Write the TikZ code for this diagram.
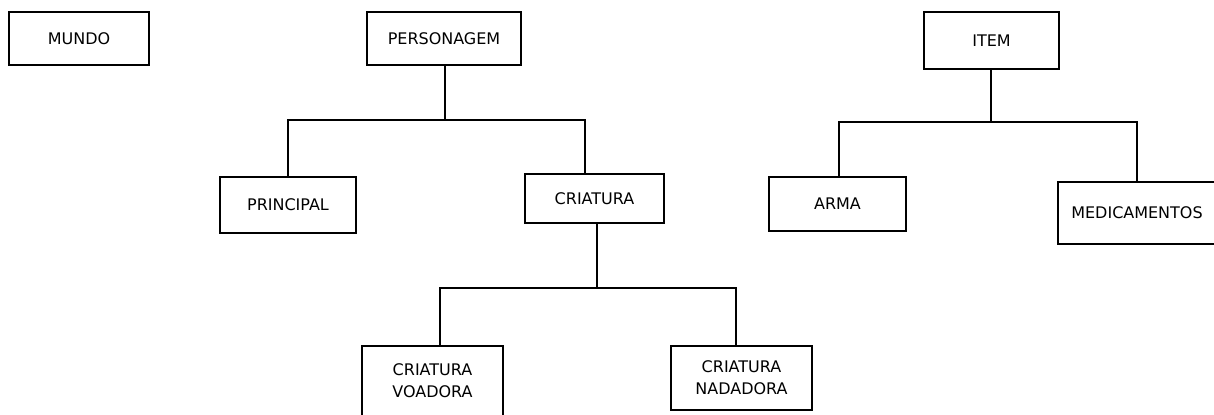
\documentclass[tikz,border=0pt]{standalone}
\usepackage{fontspec}
\setmainfont{DejaVu Sans}
\usepackage{tikz}
\begin{document}
\begin{tikzpicture}[
  x=0.02cm,y=-0.02cm,
  cbox/.style={rectangle,draw=black,fill=white,line width=1.6pt,
               font=\fontsize{9.1pt}{12.5pt}\selectfont,align=center,
               inner sep=0pt},
  ln/.style={line width=1.6pt,black}
]
\useasboundingbox (0,0) rectangle (1214,414);
\node[cbox,minimum width=2.80cm,minimum height=1.06cm] (mundo) at (79,38.5) {MUNDO};
\node[cbox,minimum width=3.08cm,minimum height=1.06cm] (pers) at (444,38.5) {PERSONAGEM};
\node[cbox,minimum width=2.70cm,minimum height=1.14cm] (item) at (991.5,40.5) {ITEM};
\node[cbox,minimum width=2.72cm,minimum height=1.12cm] (prin) at (288,205) {PRINCIPAL};
\node[cbox,minimum width=2.78cm,minimum height=0.98cm] (crit) at (594.5,198.5) {CRIATURA};
\node[cbox,minimum width=2.74cm,minimum height=1.08cm] (arma) at (837.5,204) {ARMA};
\node[cbox,minimum width=3.16cm,minimum height=1.24cm] (medi) at (1137,213) {MEDICAMENTOS};
\node[cbox,minimum width=2.82cm,minimum height=1.40cm] (voad) at (432.5,381) {CRIATURA\\VOADORA};
\node[cbox,minimum width=2.82cm,minimum height=1.28cm] (nada) at (741.5,378) {CRIATURA\\NADADORA};
\coordinate (pbar) at (445,120);
\coordinate (cbar) at (597,288);
\coordinate (ibar) at (991,122);
\draw[ln] (pers.south -| pbar) -- (pbar);
\draw[ln] (prin.north) |- (pbar) -| ([xshift=-0.19cm]crit.north);
\draw[ln] (crit.south -| cbar) -- (cbar);
\draw[ln] ([xshift=0.15cm]voad.north) |- (cbar) -| ([xshift=-0.11cm]nada.north);
\draw[ln] (item.south -| ibar) -- (ibar);
\draw[ln] ([xshift=0.03cm]arma.north) |- (ibar) -| (medi.north);
\end{tikzpicture}
\end{document}
